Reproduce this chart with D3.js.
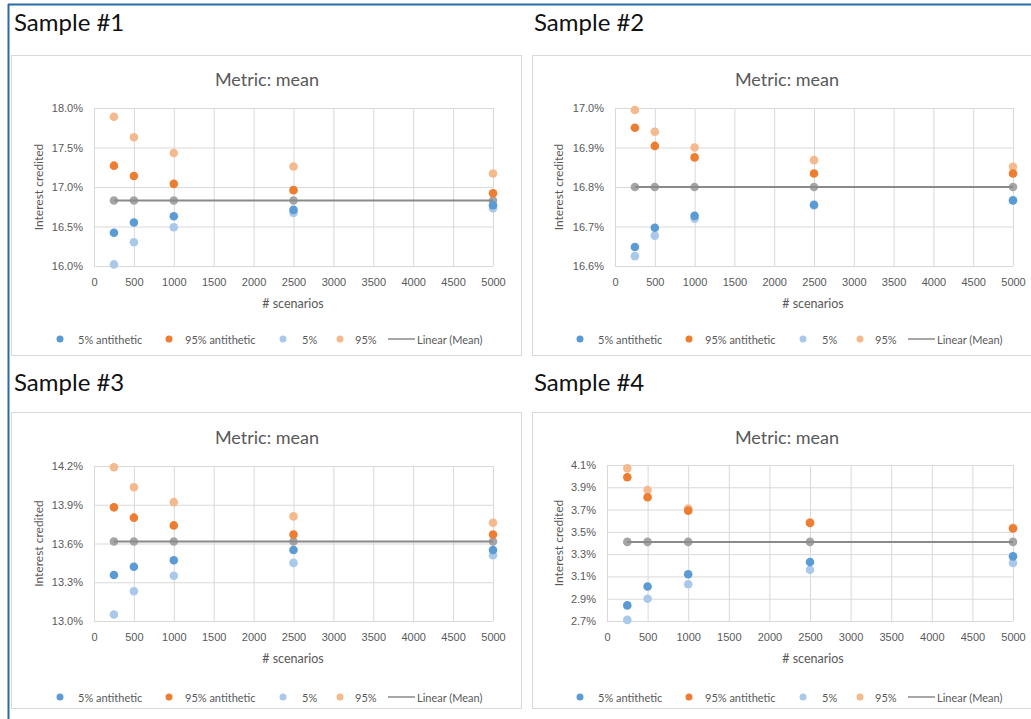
<!DOCTYPE html>
<html>
<head>
<meta charset="utf-8">
<script src="https://cdn.jsdelivr.net/npm/d3@7"></script>
<style>
  body { margin: 0; background: #fff; }
  svg { display: block; font-family: Lato, "Open Sans", sans-serif; }
  .grid line { stroke: #d9d9d9; stroke-width: 1; }
  .tick text { fill: #595959; font-size: 11px; }
</style>
</head>
<body>
<svg id="chart" width="1031" height="719"></svg>
<script>
// shared x values
const scenarios = [250, 500, 1000, 2500, 5000];
const xTicks = [0, 500, 1000, 1500, 2000, 2500, 3000, 3500, 4000, 4500, 5000];
const seriesNames = ["5% antithetic", "95% antithetic", "5%", "95%"];
const sampleTitles = ["Sample #1", "Sample #2", "Sample #3", "Sample #4"];

// sample 1
const s1_p5a  = [16.42, 16.55, 16.63, 16.71, 16.77];
const s1_p95a = [17.27, 17.14, 17.04, 16.96, 16.92];
const s1_p5   = [16.02, 16.30, 16.49, 16.67, 16.73];
const s1_p95  = [17.89, 17.63, 17.43, 17.26, 17.17];
const s1_mean = 16.83;
const s1_yTicks = [16.0, 16.5, 17.0, 17.5, 18.0];

// sample 2
const s2_p5a  = [16.648, 16.697, 16.727, 16.755, 16.766];
const s2_p95a = [16.950, 16.904, 16.875, 16.834, 16.834];
const s2_p5   = [16.625, 16.677, 16.720, 16.753, 16.767];
const s2_p95  = [16.995, 16.940, 16.900, 16.868, 16.851];
const s2_mean = 16.80;
const s2_yTicks = [16.6, 16.7, 16.8, 16.9, 17.0];

// sample 3
const s3_p5a  = [13.356, 13.42, 13.47, 13.55, 13.55];
const s3_p95a = [13.88, 13.80, 13.74, 13.67, 13.67];
const s3_p5   = [13.05, 13.23, 13.35, 13.45, 13.51];
const s3_p95  = [14.19, 14.035, 13.92, 13.81, 13.76];
const s3_mean = 13.615;
const s3_yTicks = [13.0, 13.3, 13.6, 13.9, 14.2];

// sample 4
const s4_p5a  = [2.84, 3.01, 3.12, 3.23, 3.28];
const s4_p95a = [3.99, 3.81, 3.69, 3.58, 3.53];
const s4_p5   = [2.71, 2.90, 3.03, 3.16, 3.22];
const s4_p95  = [4.07, 3.875, 3.71, 3.586, 3.537];
const s4_mean = 3.41;
const s4_yTicks = [2.7, 2.9, 3.1, 3.3, 3.5, 3.7, 3.9, 4.1];

const samples = [
    {p5a: s1_p5a, p95a: s1_p95a, p5: s1_p5, p95: s1_p95, mean: s1_mean, yTicks: s1_yTicks},
    {p5a: s2_p5a, p95a: s2_p95a, p5: s2_p5, p95: s2_p95, mean: s2_mean, yTicks: s2_yTicks},
    {p5a: s3_p5a, p95a: s3_p95a, p5: s3_p5, p95: s3_p95, mean: s3_mean, yTicks: s3_yTicks},
    {p5a: s4_p5a, p95a: s4_p95a, p5: s4_p5, p95: s4_p95, mean: s4_mean, yTicks: s4_yTicks}
];

// panel geometry (px)
const panels = [
    {ox: 0,   oy: 0,   left: 94,  right: 493,  top: 108, bottom: 266},
    {ox: 520, oy: 0,   left: 95,  right: 493,  top: 108, bottom: 266},
    {ox: 0,   oy: 360, left: 94,  right: 493,  top: 106, bottom: 261},
    {ox: 520, oy: 360, left: 87,  right: 493,  top: 105, bottom: 261}
];

const colors = {p5a: "#5b9bd5", p95a: "#ed7d31", p5: "#a9c8ea", p95: "#f5b98e", mean: "#a5a5a5", line: "#8a8a8a"};
const textCol = "#595959";
const fmt = d3.format(".1f");

const svg = d3.select("#chart");

// outer frame
svg.append("line").attr("x1", 8).attr("x2", 1031).attr("y1", 4.5).attr("y2", 4.5)
    .attr("stroke", "#2b6aa5").attr("stroke-width", 2);
svg.append("line").attr("x1", 8.5).attr("x2", 8.5).attr("y1", 4).attr("y2", 719)
    .attr("stroke", "#2b6aa5").attr("stroke-width", 2);

const drawPanel = function(i){
    let p = panels[i], d = samples[i];
    let g = svg.append("g").attr("transform", "translate(" + p.ox + "," + p.oy + ")");

    g.append("text")
        .attr("x", 14).attr("y", 31)
        .attr("font-size", 24).attr("fill", "#111")
        .text(sampleTitles[i]);

    // chart box
    g.append("rect")
        .attr("x", i % 2 === 0 ? 11.5 : 12.5).attr("y", i < 2 ? 55.5 : 52.5)
        .attr("width", i % 2 === 0 ? 510 : 500).attr("height", i < 2 ? 300 : 296)
        .attr("fill", "#fff").attr("stroke", "#d9d9d9");

    g.append("text")
        .attr("x", 267).attr("y", i < 2 ? 79 : 77)
        .attr("text-anchor", "middle").attr("dominant-baseline", "central")
        .attr("font-size", 18).attr("fill", textCol)
        .text("Metric: mean");

    let xScale = d3.scaleLinear().domain([0, 5000]).range([p.left, p.right]);
    let yScale = d3.scaleLinear()
        .domain([d.yTicks[0], d.yTicks[d.yTicks.length - 1]])
        .range([p.bottom, p.top]);

    // gridlines
    g.append("g").attr("class", "grid")
        .attr("transform", "translate(0," + p.bottom + ")")
        .call(d3.axisBottom(xScale).tickValues(xTicks).tickSize(-(p.bottom - p.top)).tickFormat(""))
        .call(g => g.select(".domain").remove());
    g.append("g").attr("class", "grid")
        .attr("transform", "translate(" + p.left + ",0)")
        .call(d3.axisLeft(yScale).tickValues(d.yTicks).tickSize(-(p.right - p.left)).tickFormat(""))
        .call(g => g.select(".domain").remove());

    // tick labels
    g.append("g")
        .attr("transform", "translate(0," + p.bottom + ")")
        .call(d3.axisBottom(xScale).tickValues(xTicks).tickSize(0).tickPadding(12).tickFormat(d3.format("d")))
        .call(g => g.select(".domain").remove());
    g.append("g")
        .attr("transform", "translate(" + p.left + ",0)")
        .call(d3.axisLeft(yScale).tickValues(d.yTicks).tickSize(0).tickPadding(11)
            .tickFormat(v => fmt(v) + "%"))
        .call(g => g.select(".domain").remove());

    g.append("text")
        .attr("x", 293).attr("y", p.bottom + 37)
        .attr("text-anchor", "middle").attr("dominant-baseline", "central")
        .attr("font-size", 12.5).attr("fill", textCol)
        .text("# scenarios");

    g.append("text")
        .attr("transform", "translate(38," + ((p.top + p.bottom) / 2) + ") rotate(-90)")
        .attr("text-anchor", "middle").attr("dominant-baseline", "central")
        .attr("font-size", 12).attr("fill", textCol)
        .text("Interest credited");

    // mean series + trendline
    g.selectAll(".mdot")
        .data(scenarios)
        .enter()
        .append("circle")
        .attr("cx", function(s){ return xScale(s) })
        .attr("cy", yScale(d.mean))
        .attr("r", 4.3)
        .attr("fill", colors.mean);

    g.append("line")
        .attr("x1", xScale(scenarios[0])).attr("x2", xScale(scenarios[scenarios.length - 1]))
        .attr("y1", yScale(d.mean)).attr("y2", yScale(d.mean))
        .attr("stroke", colors.line).attr("stroke-width", 2);

    ["p5", "p95", "p5a", "p95a"].forEach(function(k){
        g.selectAll(".dot-" + k)
            .data(d[k])
            .enter()
            .append("circle")
            .attr("class", "dot-" + k)
            .attr("cx", function(v, j){ return xScale(scenarios[j]) })
            .attr("cy", function(v){ return yScale(v) })
            .attr("r", 4.3)
            .attr("fill", colors[k]);
    });

    // legend
    let ly = i < 2 ? 339 : 337;
    let keys = ["p5a", "p95a", "p5", "p95"];
    let mx = [60, 169, 283, 340], tx = [78, 185, 302, 355];
    keys.forEach(function(k, j){
        g.append("circle").attr("cx", mx[j]).attr("cy", ly).attr("r", 3.5).attr("fill", colors[k]);
        g.append("text").attr("x", tx[j]).attr("y", ly)
            .attr("dominant-baseline", "central").attr("font-size", 11).attr("fill", textCol)
            .text(seriesNames[j]);
    });
    g.append("line").attr("x1", 388).attr("x2", 415).attr("y1", ly).attr("y2", ly)
        .attr("stroke", colors.line).attr("stroke-width", 1.5);
    g.append("text").attr("x", 417).attr("y", ly)
        .attr("dominant-baseline", "central").attr("font-size", 11).attr("fill", textCol)
        .text("Linear (Mean)");
};

for (let i = 0; i < 4; i++) drawPanel(i);
</script>
</body>
</html>
